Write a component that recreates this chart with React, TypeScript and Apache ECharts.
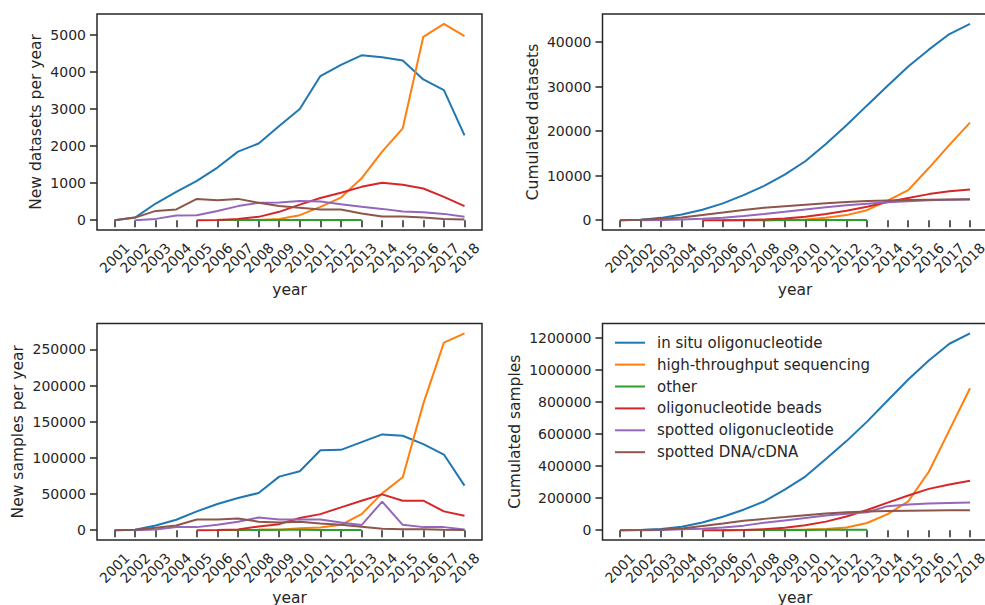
import React, { useEffect, useRef } from "react";
import * as echarts from "echarts";

const _ = null;

const years = [2001, 2002, 2003, 2004, 2005, 2006, 2007, 2008, 2009, 2010, 2011, 2012, 2013, 2014, 2015, 2016, 2017, 2018];

const seriesNames = [
  "in situ oligonucleotide",
  "high-throughput sequencing",
  "other",
  "oligonucleotide beads",
  "spotted oligonucleotide",
  "spotted DNA/cDNA",
];

// New datasets per year
const datasetsNewInSitu = [0, 70, 450, 765, 1060, 1420, 1850, 2070, 2540, 3000, 3890, 4190, 4450, 4400, 4310, 3800, 3510, 2290];
const datasetsNewHts = [_, _, _, _, _, _, _, 5, 30, 135, 360, 610, 1130, 1850, 2480, 4950, 5300, 4970];
const datasetsNewOther = [_, _, _, _, _, 2, 3, 5, 6, 8, 5, 3, 2, _, _, _, _, _];
const datasetsNewBeads = [_, _, _, _, 0, 5, 35, 90, 225, 420, 600, 740, 900, 1010, 955, 855, 630, 380];
const datasetsNewSpottedOligo = [_, 0, 35, 125, 135, 250, 380, 470, 480, 520, 505, 430, 360, 305, 235, 215, 170, 90];
const datasetsNewSpottedDna = [0, 70, 250, 290, 575, 540, 575, 470, 380, 335, 290, 290, 180, 100, 100, 70, 35, 20];

// Cumulated datasets
const datasetsCumInSitu = [0, 70, 520, 1290, 2350, 3770, 5620, 7690, 10230, 13230, 17120, 21310, 25760, 30160, 34470, 38270, 41780, 44070];
const datasetsCumHts = [_, _, _, _, _, _, _, 5, 35, 170, 530, 1140, 2250, 4400, 6750, 11700, 16900, 21900];
const datasetsCumOther = [_, _, _, _, _, 2, 5, 10, 16, 24, 29, 32, 34, _, _, _, _, _];
const datasetsCumBeads = [_, _, _, _, 0, 5, 40, 130, 355, 775, 1375, 2115, 3015, 4100, 5000, 5850, 6480, 6870];
const datasetsCumSpottedOligo = [_, 0, 35, 160, 295, 545, 925, 1395, 1875, 2395, 2900, 3330, 3690, 4000, 4240, 4450, 4600, 4660];
const datasetsCumSpottedDna = [0, 70, 320, 610, 1185, 1725, 2300, 2770, 3150, 3485, 3800, 4100, 4300, 4420, 4530, 4610, 4660, 4700];

// New samples per year
const samplesNewInSitu = [0, 500, 6500, 14400, 26000, 36100, 44400, 51400, 74000, 81500, 110600, 111100, 121800, 132400, 130600, 119000, 104600, 61600];
const samplesNewHts = [_, _, _, _, _, _, _, 1000, 500, 2800, 3700, 7400, 22200, 50900, 73100, 175000, 259300, 272200];
const samplesNewOther = [_, _, _, _, _, 100, 200, 300, 400, 500, 300, 300, 200, _, _, _, _, _];
const samplesNewBeads = [_, _, _, _, 0, 200, 900, 5100, 8300, 16700, 22200, 31500, 40700, 49500, 40700, 40700, 26000, 19900];
const samplesNewSpottedOligo = [_, 0, 900, 4200, 4200, 7400, 11600, 17600, 14800, 14800, 14800, 10600, 7000, 39400, 7400, 4200, 4200, 900];
const samplesNewSpottedDna = [0, 500, 3200, 6500, 14800, 14800, 16200, 11600, 10600, 11600, 9300, 7400, 4600, 1900, 1400, 1400, 500, 200];

// Cumulated samples
const samplesCumInSitu = [0, 500, 7000, 21400, 47400, 83500, 127900, 179300, 253300, 334800, 445400, 556500, 678300, 810700, 941300, 1060300, 1165000, 1230000];
const samplesCumHts = [_, _, _, _, _, _, _, 1000, 1500, 4300, 8000, 16000, 45000, 100000, 180000, 365000, 625000, 887000];
const samplesCumOther = [_, _, _, _, _, 100, 300, 600, 1000, 1500, 1800, 2100, 2300, _, _, _, _, _];
const samplesCumBeads = [_, _, _, _, 0, 200, 1100, 6200, 14500, 31200, 53400, 84900, 125600, 172000, 217000, 258000, 285000, 309000];
const samplesCumSpottedOligo = [_, 0, 900, 5100, 9300, 16700, 28300, 45900, 61000, 76000, 91000, 102000, 112000, 150000, 161000, 166000, 170000, 173000];
const samplesCumSpottedDna = [0, 500, 3800, 10500, 26000, 41500, 58500, 70500, 81500, 93500, 103500, 111500, 116500, 119500, 121500, 123000, 124000, 125000];

// Y tick labels
const datasetsNewTicks = [0, 1000, 2000, 3000, 4000, 5000];
const datasetsCumTicks = [0, 10000, 20000, 30000, 40000];
const samplesNewTicks = [0, 50000, 100000, 150000, 200000, 250000];
const samplesCumTicks = [0, 200000, 400000, 600000, 800000, 1000000, 1200000];

const yTitles = ["New datasets per year", "Cumulated datasets", "New samples per year", "Cumulated samples"];
const xTitle = "year";

const panelData = [
  [datasetsNewInSitu, datasetsNewHts, datasetsNewOther, datasetsNewBeads, datasetsNewSpottedOligo, datasetsNewSpottedDna],
  [datasetsCumInSitu, datasetsCumHts, datasetsCumOther, datasetsCumBeads, datasetsCumSpottedOligo, datasetsCumSpottedDna],
  [samplesNewInSitu, samplesNewHts, samplesNewOther, samplesNewBeads, samplesNewSpottedOligo, samplesNewSpottedDna],
  [samplesCumInSitu, samplesCumHts, samplesCumOther, samplesCumBeads, samplesCumSpottedOligo, samplesCumSpottedDna],
];
const panelTicks = [datasetsNewTicks, datasetsCumTicks, samplesNewTicks, samplesCumTicks];

// layout & style
const colors = ["#1f77b4", "#ff7f0e", "#2ca02c", "#d62728", "#9467bd", "#8c564b"];
const ink = "#262626";
const font = "DejaVu Sans";
const layout = [
  { left: 97, top: 14, height: 216, yGap: 53, xGap: 52 },
  { left: 602.5, top: 14, height: 216, yGap: 62, xGap: 52 },
  { left: 97, top: 323.5, height: 216.5, yGap: 71, xGap: 50 },
  { left: 602.5, top: 323.5, height: 216.5, yGap: 80, xGap: 50 },
];
const gridWidth = 385;
const legendX = 615;
const legendY = 342.7;
const legendRow = 21.9;

function buildOption() {
  const xPad = (years[years.length - 1] - years[0]) * 0.05;
  const grids: any[] = [];
  const xAxes: any[] = [];
  const yAxes: any[] = [];
  const series: any[] = [];
  panelData.forEach((arrs, i) => {
    const L = layout[i];
    let maxV = 0;
    arrs.forEach((a) => a.forEach((v) => { if (v != null && v > maxV) maxV = v; }));
    grids.push({
      left: L.left, top: L.top, width: gridWidth, height: L.height,
      show: true, borderColor: ink, borderWidth: 1.5, backgroundColor: "transparent",
      containLabel: false, outerBoundsMode: "none",
    });
    xAxes.push({
      type: "value", gridIndex: i,
      min: years[0] - xPad, max: years[years.length - 1] + xPad,
      splitLine: { show: false },
      axisLine: { show: false },
      axisTick: { show: true, length: 7, customValues: years, lineStyle: { color: ink, width: 1.5 } },
      axisLabel: {
        customValues: years, rotate: 45, align: "center", verticalAlign: "middle", margin: 28,
        fontSize: 14, color: ink, fontFamily: font, formatter: (v: number) => String(v),
      },
      name: xTitle, nameLocation: "middle", nameGap: L.xGap,
      nameTextStyle: { fontSize: 15.5, color: ink, fontFamily: font },
    });
    yAxes.push({
      type: "value", gridIndex: i,
      min: -0.05 * maxV, max: 1.05 * maxV,
      splitLine: { show: false },
      axisLine: { show: false },
      axisTick: { show: true, length: 7, customValues: panelTicks[i], lineStyle: { color: ink, width: 1.5 } },
      axisLabel: {
        customValues: panelTicks[i], margin: 11, fontSize: 14, color: ink, fontFamily: font,
        formatter: (v: number) => String(v),
      },
      name: yTitles[i], nameLocation: "middle", nameGap: L.yGap,
      nameTextStyle: { fontSize: 15.5, color: ink, fontFamily: font },
    });
    arrs.forEach((a, k) => {
      series.push({
        type: "line", name: seriesNames[k], xAxisIndex: i, yAxisIndex: i,
        data: years.map((y, j) => [y, a[j]]),
        symbol: "none", showSymbol: false, connectNulls: false,
        lineStyle: { color: colors[k], width: 2 }, itemStyle: { color: colors[k] },
        color: colors[k],
      });
    });
  });
  const legendGraphics: any[] = [];
  seriesNames.forEach((name, k) => {
    const y = legendY + k * legendRow;
    legendGraphics.push({
      type: "line", silent: true,
      shape: { x1: legendX, y1: y, x2: legendX + 30, y2: y },
      style: { stroke: colors[k], lineWidth: 2 },
    });
    legendGraphics.push({
      type: "text", silent: true, x: legendX + 42, y,
      style: { text: name, fill: ink, fontSize: 15, fontFamily: font, verticalAlign: "middle", align: "left" },
    });
  });
  return {
    animation: false,
    backgroundColor: "#ffffff",
    textStyle: { fontFamily: font },
    grid: grids,
    xAxis: xAxes,
    yAxis: yAxes,
    graphic: legendGraphics,
    series,
  };
}

export default function App() {
  const ref = useRef<HTMLDivElement>(null);
  useEffect(() => {
    if (!ref.current) return;
    const chart = echarts.init(ref.current, undefined, { renderer: "svg" });
    chart.setOption(buildOption() as any);
    return () => chart.dispose();
  }, []);
  return <div ref={ref} style={{ position: "fixed", left: 0, top: 0, width: 985, height: 605 }} />;
}
